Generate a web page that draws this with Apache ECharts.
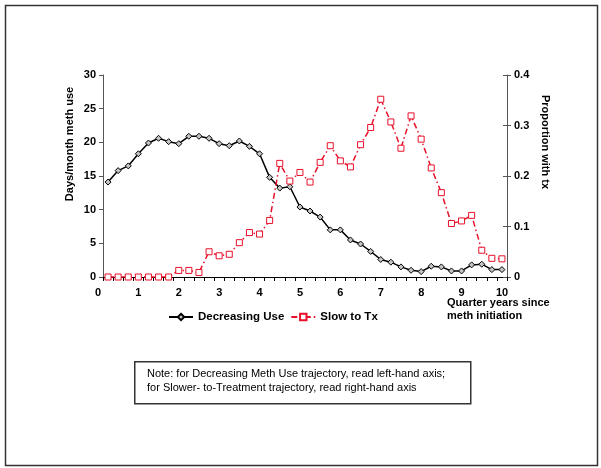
<!DOCTYPE html>
<html>
<head>
<meta charset="utf-8">
<script src="https://cdn.jsdelivr.net/npm/echarts@6/dist/echarts.min.js"></script>
<style>html,body{margin:0;padding:0;background:#fff}#c{width:601px;height:468px}</style>
</head>
<body>
<div id="c"></div>
<script>
// Quarter-year positions (x)
const quarters = [0.25,0.5,0.75,1,1.25,1.5,1.75,2,2.25,2.5,2.75,3,3.25,3.5,3.75,4,4.25,4.5,4.75,5,
  5.25,5.5,5.75,6,6.25,6.5,6.75,7,7.25,7.5,7.75,8,8.25,8.5,8.75,9,9.25,9.5,9.75,10];
// Decreasing Use: days/month meth use (left axis)
const decreasingUse = [14.1,15.8,16.5,18.3,19.9,20.6,20.1,19.8,20.9,20.9,20.6,19.8,19.5,20.2,19.4,18.3,14.8,13.2,13.4,10.4,
  9.8,8.9,7.0,7.0,5.5,4.9,3.8,2.6,2.2,1.5,1.0,0.8,1.6,1.5,0.9,0.9,1.8,1.9,1.1,1.1];
// Slow to Tx: proportion with tx (right axis)
const slowToTx = [0,0,0,0,0,0,0,0.013,0.013,0.009,0.05,0.042,0.045,0.068,0.088,0.085,0.112,0.225,0.19,0.207,
  0.188,0.227,0.26,0.23,0.218,0.262,0.296,0.352,0.307,0.255,0.319,0.273,0.216,0.167,0.106,0.111,0.122,0.053,0.037,0.036];
const xTickLabels = [0,1,2,3,4,5,6,7,8,9,10];
const leftTitle = 'Days/month meth use';
const rightTitle = 'Proportion with tx';
const xTitle = 'Quarter years since\nmeth initiation';
const noteText = 'Note: for Decreasing Meth Use trajectory, read left-hand axis;\nfor Slower- to-Treatment trajectory, read right-hand axis';

const FONT = 'Arial, "Liberation Sans", sans-serif';
const RED = '#e8102a';
const chart = echarts.init(document.getElementById('c'), null, {renderer:'canvas'});
chart.setOption({
  animation:false,
  backgroundColor:'#fff',
  grid:[
    {left:103, right:94, top:75, bottom:191},
    {left:98, right:99, top:75, bottom:191}
  ],
  legend:{
    left:163, top:306, itemWidth:24, itemHeight:8, itemGap:6,
    textStyle:{fontFamily:FONT, fontWeight:'bold', fontSize:11.5, color:'#000'},
    data:['Decreasing Use','Slow to Tx']
  },
  xAxis:[
    {type:'category', gridIndex:0, data:quarters, boundaryGap:true,
     axisLine:{lineStyle:{color:'#000', width:1}},
     axisTick:{show:true, interval:0, length:4, lineStyle:{color:'#000'}},
     axisLabel:{show:false}, splitLine:{show:false}},
    {type:'value', gridIndex:1, min:0, max:10, interval:1,
     axisLine:{show:false}, axisTick:{show:false}, splitLine:{show:false},
     axisLabel:{margin:10, fontFamily:FONT, fontWeight:'bold', fontSize:11, color:'#000',
       formatter:(v)=> xTickLabels.includes(v) ? String(v) : ''}}
  ],
  yAxis:[
    {type:'value', gridIndex:0, position:'left', min:0, max:30, interval:5,
     axisLine:{show:true, lineStyle:{color:'#555'}},
     axisTick:{show:true, length:4, lineStyle:{color:'#555'}},
     axisLabel:{margin:7, fontFamily:FONT, fontWeight:'bold', fontSize:11, color:'#000'},
     splitLine:{show:false}},
    {type:'value', gridIndex:0, position:'right', min:0, max:0.4, interval:0.1,
     axisLine:{show:true, lineStyle:{color:'#555'}},
     axisTick:{show:true, length:4, lineStyle:{color:'#555'}},
     axisLabel:{margin:7, fontFamily:FONT, fontWeight:'bold', fontSize:11, color:'#000'},
     splitLine:{show:false}},
    {type:'value', gridIndex:0, position:'right', min:0, max:0.4, interval:0.1,
     axisLine:{show:false}, axisLabel:{show:false}, splitLine:{show:false},
     axisTick:{show:true, inside:true, length:4, lineStyle:{color:'#555'}}},
    {type:'value', gridIndex:1, show:false, min:0, max:1}
  ],
  series:[
    {name:'Decreasing Use', type:'line', xAxisIndex:0, yAxisIndex:0, data:decreasingUse,
     symbol:'diamond', symbolSize:6, showAllSymbol:true,
     itemStyle:{color:'#c4c4c4', borderColor:'#000', borderWidth:1},
     lineStyle:{color:'#000', width:1.5}},
    {name:'Slow to Tx', type:'line', xAxisIndex:0, yAxisIndex:1, data:slowToTx,
     symbol:'rect', symbolSize:6, showAllSymbol:true,
     itemStyle:{color:'#fff', borderColor:RED, borderWidth:1},
     lineStyle:{color:RED, width:1.5, type:[6,3,1.5,3]}}
  ],
  graphic:[
    {type:'rect', left:3, top:3, shape:{width:592, height:460},
     style:{fill:null, stroke:'#333', lineWidth:1.5}, silent:true},
    {type:'text', x:70, y:144, rotation:Math.PI/2,
     style:{text:leftTitle, fontFamily:FONT, fontWeight:'bold', fontSize:11, fill:'#000',
       textAlign:'center', textVerticalAlign:'middle'}},
    {type:'text', x:545, y:142, rotation:-Math.PI/2,
     style:{text:rightTitle, fontFamily:FONT, fontWeight:'bold', fontSize:11, fill:'#000',
       textAlign:'center', textVerticalAlign:'middle'}},
    {type:'text', left:447, top:297,
     style:{text:xTitle, fontFamily:FONT, fontWeight:'bold', fontSize:11, lineHeight:12.5, fill:'#000'}},
    {type:'rect', left:134, top:361, shape:{width:336, height:42},
     style:{fill:'#fff', stroke:'#333', lineWidth:1.5}},
    {type:'text', left:147, top:367,
     style:{text:noteText, fontFamily:FONT, fontSize:11, lineHeight:14, fill:'#000'}}
  ]
});
</script>
</body>
</html>
